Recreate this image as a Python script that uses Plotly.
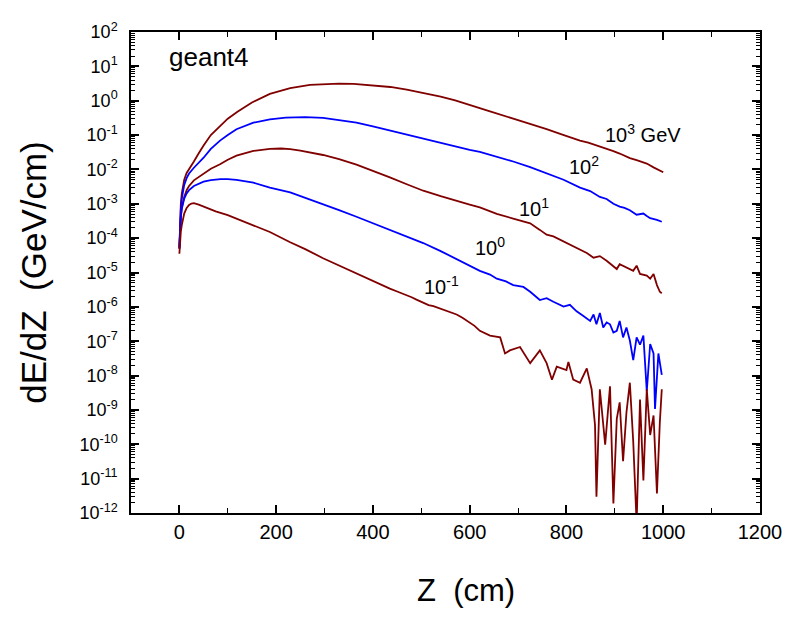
import plotly.graph_objects as go

# ---------------- data ----------------
z_e1000 = [0, 1, 2, 3, 5, 7, 10, 15, 20, 30, 40, 50, 65, 84, 100, 120, 150, 187, 229, 270,
           300, 330, 360, 400, 436, 470, 500, 540, 570, 600, 621, 642, 690, 720, 759, 790,
           814, 828, 845, 863, 883, 897, 910, 920, 931, 945, 955, 966, 980, 990, 1000]
dedz_e1000 = [5.0e-5, 2.0e-4, 5.0e-4, 1.0e-3, 2.0e-3, 3.2e-3, 5.0e-3, 7.9e-3, 1.05e-2, 1.7e-2,
              2.95e-2, 5.0e-2, 1.0e-1, 1.82e-1, 3.0e-1, 4.8e-1, 8.9e-1, 1.58, 2.34, 2.88,
              3.09, 3.16, 3.09, 2.75, 2.51, 2.09, 1.74, 1.32, 1.02, 0.74, 0.60, 0.49, 0.30,
              0.224, 0.148, 0.105, 0.079, 0.069, 0.060, 0.050, 0.041, 0.034, 0.029, 0.025,
              0.0214, 0.0186, 0.0166, 0.0148, 0.0115, 0.0100, 0.0083]

z_e100 = [0, 1, 2, 3, 5, 7, 10, 15, 20, 30, 40, 50, 65, 84, 100, 118, 153, 187, 220, 260,
          297, 330, 366, 400, 435, 470, 504, 540, 573, 600, 621, 656, 690, 725, 759, 794,
          828, 849, 869, 883, 897, 910, 920, 931, 945, 959, 966, 973, 987, 997]
dedz_e100 = [5.6e-5, 1.78e-4, 4.0e-4, 7.1e-4, 1.41e-3, 2.24e-3, 3.55e-3, 5.6e-3, 7.6e-3, 1.12e-2,
             1.58e-2, 2.19e-2, 3.98e-2, 6.9e-2, 0.100, 0.148, 0.229, 0.288, 0.324, 0.331,
             0.316, 0.275, 0.229, 0.178, 0.135, 0.102, 0.0776, 0.0589, 0.0447, 0.0372,
             0.0324, 0.0234, 0.0170, 0.0117, 0.0079, 0.0050, 0.00295, 0.00234, 0.00158,
             0.00138, 0.00100, 0.00083, 0.00076, 0.00065, 0.00048, 0.00052, 0.00044,
             0.00038, 0.00034, 0.00030]

z_e10 = [0, 1, 2, 3, 5, 7, 10, 15, 20, 30, 40, 50, 65, 84, 100, 118, 153, 187, 210, 229,
         250, 297, 330, 366, 400, 435, 470, 504, 540, 573, 600, 621, 656, 690, 725, 745,
         759, 773, 794, 814, 828, 842, 856, 869, 883, 897, 904, 910, 924, 938, 945, 952,
         966, 973, 980, 987, 993, 997]
dedz_e10 = [5.0e-5, 1.41e-4, 2.8e-4, 4.5e-4, 7.9e-4, 1.12e-3, 1.58e-3, 2.5e-3, 3.3e-3, 4.8e-3,
            6.0e-3, 7.1e-3, 1.05e-2, 1.41e-2, 1.91e-2, 2.51e-2, 3.47e-2, 3.98e-2, 4.07e-2,
            3.89e-2, 3.55e-2, 2.63e-2, 2.0e-2, 1.38e-2, 9.3e-3, 5.9e-3, 3.7e-3, 2.4e-3,
            1.66e-3, 1.20e-3, 9.5e-4, 7.9e-4, 5.1e-4, 3.7e-4, 2.7e-4, 1.74e-4, 1.26e-4,
            1.12e-4, 8.1e-5, 5.75e-5, 4.7e-5, 3.7e-5, 2.7e-5, 3.0e-5, 2.2e-5, 1.58e-5,
            1.26e-5, 1.74e-5, 1.41e-5, 1.12e-5, 1.58e-5, 9.1e-6, 8.1e-6, 6.6e-6, 9.1e-6,
            4.3e-6, 2.75e-6, 2.5e-6]

z_e1 = [0, 1, 2, 3, 5, 7, 10, 15, 20, 30, 40, 50, 65, 85, 100, 118, 153, 187, 229, 249,
        297, 330, 366, 400, 435, 470, 504, 540, 573, 600, 621, 642, 656, 675, 690, 711,
        725, 745, 759, 773, 794, 807, 821, 835, 849, 856, 862, 869, 876, 883, 890, 897,
        904, 910, 917, 924, 931, 938, 945, 952, 959, 966, 973, 980, 983, 990, 997]
dedz_e1 = [5.0e-5, 1.26e-4, 2.5e-4, 4.0e-4, 7.1e-4, 1.0e-3, 1.41e-3, 2.0e-3, 2.5e-3, 3.3e-3,
           3.9e-3, 4.4e-3, 4.9e-3, 5.25e-3, 5.25e-3, 5.0e-3, 4.1e-3, 2.95e-3, 2.14e-3,
           1.70e-3, 1.0e-3, 6.5e-4, 4.2e-4, 2.7e-4, 1.74e-4, 1.12e-4, 7.2e-5, 4.2e-5,
           2.5e-5, 1.58e-5, 1.12e-5, 8.7e-6, 6.6e-6, 5.5e-6, 4.3e-6, 3.8e-6, 2.75e-6,
           1.58e-6, 1.78e-6, 1.41e-6, 1.02e-6, 1.15e-6, 7.4e-7, 5.4e-7, 3.9e-7, 6.0e-7,
           3.1e-7, 6.6e-7, 2.5e-7, 3.5e-7, 3.1e-7, 1.78e-7, 2.0e-7, 3.9e-7, 1.29e-7,
           2.5e-7, 1.05e-7, 2.8e-8, 1.29e-7, 7.9e-8, 1.45e-7, 3.5e-9, 8.3e-8, 4.4e-8,
           1.07e-9, 4.4e-8, 1.05e-8]

z_e01 = [0, 1, 2, 3, 5, 7, 10, 15, 20, 25, 30, 40, 50, 75, 100, 118, 150, 187, 229, 260,
         297, 330, 366, 400, 435, 450, 460, 480, 490, 504, 515, 525, 540, 550, 560, 573,
         585, 594, 610, 621, 642, 663, 673, 683, 704, 725, 745, 759, 770, 780, 800, 804,
         814, 828, 842, 852, 859, 862, 869, 880, 890, 897, 904, 910, 917, 924, 931, 938,
         945, 952, 959, 966, 973, 980, 987, 993, 997]
dedz_e01 = [3.5e-5, 6.3e-5, 1.12e-4, 1.58e-4, 2.4e-4, 3.5e-4, 5.2e-4, 7.6e-4, 9.3e-4, 1.02e-3,
            1.05e-3, 9.5e-4, 8.3e-4, 6.0e-4, 4.7e-4, 3.7e-4, 2.4e-4, 1.51e-4, 7.6e-5,
            4.8e-5, 2.6e-5, 1.58e-5, 9.3e-6, 5.6e-6, 3.4e-6, 2.8e-6, 2.5e-6, 1.9e-6,
            1.62e-6, 1.29e-6, 1.12e-6, 1.05e-6, 8.9e-7, 7.6e-7, 7.1e-7, 6.0e-7, 4.8e-7,
            3.9e-7, 2.8e-7, 2.0e-7, 1.45e-7, 1.29e-7, 4.4e-8, 5.4e-8, 6.8e-8, 2.3e-8,
            5.4e-8, 2.3e-8, 7.6e-9, 1.82e-8, 1.45e-8, 2.5e-8, 7.6e-9, 6.2e-9, 1.62e-8,
            4.0e-9, 3.6e-10, 3.0e-12, 4.0e-9, 9.8e-11, 4.9e-9, 1.9e-12, 5.5e-10, 1.66e-9,
            3.2e-11, 8.5e-10, 6.2e-9, 1.2e-10, 5.0e-13, 2.0e-9, 8.9e-12, 4.0e-9, 1.86e-10,
            6.9e-10, 3.7e-12, 4.4e-10, 4.0e-9]

x_ticks = [0, 200, 400, 600, 800, 1000, 1200]
y_exponents = list(range(-12, 3))
y_ticks = [10.0 ** e for e in y_exponents]
y_ticktext = ["10<sup>%d</sup>" % e for e in y_exponents]

series = [
    ("10^3 GeV", z_e1000, dedz_e1000, "#800000"),
    ("10^2 GeV", z_e100, dedz_e100, "#0000FF"),
    ("10^1 GeV", z_e10, dedz_e10, "#800000"),
    ("10^0 GeV", z_e1, dedz_e1, "#0000FF"),
    ("10^-1 GeV", z_e01, dedz_e01, "#800000"),
]

# label placement (left edge x in cm, y as log10 position)
labels = [
    ("10<sup>3</sup> GeV", 876, -0.95),
    ("10<sup>2</sup>", 801, -1.88),
    ("10<sup>1</sup>", 698, -3.10),
    ("10<sup>0</sup>", 607, -4.24),
    ("10<sup>-1</sup>", 502, -5.38),
]

FONT = "Liberation Sans, Arial, sans-serif"

fig = go.Figure()
for name, zs, vs, col in series:
    fig.add_trace(go.Scatter(x=zs, y=vs, mode="lines", name=name,
                             line=dict(color=col, width=1.8), showlegend=False))

for txt, xa, ya in labels:
    fig.add_annotation(x=xa, y=ya, xref="x", yref="y", text=txt, showarrow=False,
                       xanchor="left", yanchor="middle",
                       font=dict(family=FONT, size=20, color="black"))

fig.add_annotation(x=0.058, y=0.947, xref="paper", yref="paper", text="geant4",
                   showarrow=False, xanchor="left", yanchor="middle",
                   font=dict(family=FONT, size=26, color="black"))

# x-axis title as annotation (centred where the reference has it)
fig.add_annotation(x=592, y=-0.162, xref="x", yref="paper", text="Z  (cm)",
                   showarrow=False, xanchor="center", yanchor="middle",
                   font=dict(family=FONT, size=31, color="black"))

fig.update_layout(
    width=791, height=619,
    margin=dict(l=123, r=39, t=12, b=114),
    paper_bgcolor="white", plot_bgcolor="white",
    font=dict(family=FONT, color="black"),
    xaxis=dict(
        range=[-100, 1200], tickmode="array", tickvals=x_ticks,
        ticks="inside", ticklen=8, tickwidth=1.5, tickcolor="black",
        showline=True, linecolor="black", linewidth=1.5, mirror="ticks",
        showgrid=False, zeroline=False,
        tickfont=dict(family=FONT, size=20),
        minor=dict(dtick=100, ticks="inside", ticklen=5, tickwidth=1.2,
                   tickcolor="black", showgrid=False),
    ),
    yaxis=dict(
        type="log", range=[-12, 2], tickmode="array", tickvals=y_ticks,
        ticktext=y_ticktext,
        ticks="inside", ticklen=8, tickwidth=1.5, tickcolor="black",
        showline=True, linecolor="black", linewidth=1.5, mirror="ticks",
        showgrid=False, zeroline=False, ticklabelstandoff=8,
        tickfont=dict(family=FONT, size=18),
        minor=dict(dtick="D1", ticks="inside", ticklen=4, tickwidth=1,
                   tickcolor="black", showgrid=False),
        title=dict(text="dE/dZ  (GeV/cm)", font=dict(family=FONT, size=35), standoff=22),
    ),
)

fig.write_html("out.html")
